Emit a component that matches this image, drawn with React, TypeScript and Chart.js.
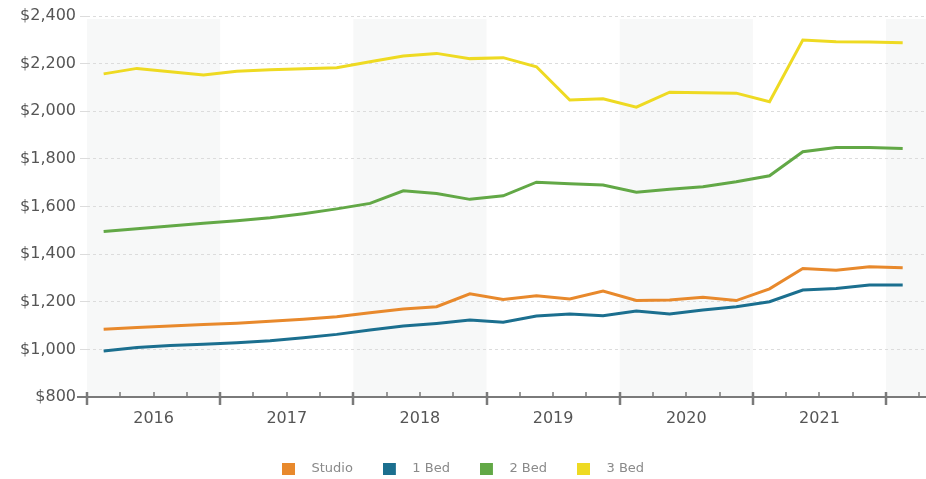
import React, { useEffect, useRef } from "react";
import { Chart, registerables } from "chart.js";

Chart.register(...registerables);

const quarters = [
  "2016-Q1", "2016-Q2", "2016-Q3", "2016-Q4",
  "2017-Q1", "2017-Q2", "2017-Q3", "2017-Q4",
  "2018-Q1", "2018-Q2", "2018-Q3", "2018-Q4",
  "2019-Q1", "2019-Q2", "2019-Q3", "2019-Q4",
  "2020-Q1", "2020-Q2", "2020-Q3", "2020-Q4",
  "2021-Q1", "2021-Q2", "2021-Q3", "2021-Q4",
  "2022-Q1",
];

const studio = [
  1085, 1092, 1098, 1104, 1110, 1118, 1127, 1137, 1154, 1170, 1179, 1233, 1210,
  1225, 1212, 1245, 1205, 1207, 1219, 1205, 1254, 1340, 1332, 1347, 1343,
];
const oneBed = [
  993, 1008, 1016, 1022, 1028, 1036, 1049, 1063, 1081, 1098, 1109, 1123, 1114,
  1140, 1149, 1141, 1161, 1149, 1165, 1179, 1200, 1249, 1256, 1270, 1270,
];
const twoBed = [
  1495, 1507, 1518, 1530, 1540, 1553, 1570, 1590, 1613, 1666, 1655, 1630, 1645,
  1702, 1696, 1690, 1660, 1672, 1683, 1704, 1729, 1830, 1848, 1848, 1844,
];
const threeBed = [
  2157, 2180, 2166, 2152, 2168, 2174, 2178, 2183, 2208, 2232, 2243, 2221, 2225,
  2187, 2047, 2052, 2017, 2080, 2078, 2076, 2040, 2299, 2292, 2291, 2288,
];

const seriesNames = ["Studio", "1 Bed", "2 Bed", "3 Bed"];
const seriesColors = ["#E8892C", "#1B6F8F", "#62A846", "#EEDA22"];
const yearLabels = [2016, 2017, 2018, 2019, 2020, 2021];
const shadedYears = [2016, 2018, 2020, 2022];

const xOf = (q: string) => {
  const [y, qq] = q.split("-Q");
  return Number(y) + (Number(qq) - 1) * 0.25 + 0.125;
};

const makeLegendSwatch = (color: string) => {
  const c = document.createElement("canvas");
  c.width = 23;
  c.height = 12;
  const g = c.getContext("2d")!;
  g.fillStyle = color;
  g.fillRect(0, 0, 13, 12);
  return c;
};

const decorPlugin = {
  id: "decor",
  beforeDraw(chart: any) {
    const { ctx, chartArea } = chart;
    const xs = chart.scales.x;
    ctx.save();
    ctx.fillStyle = "#F7F8F8";
    shadedYears.forEach((yr) => {
      const l = Math.max(xs.getPixelForValue(yr), chartArea.left);
      const r = Math.min(xs.getPixelForValue(yr + 1), chartArea.right);
      if (r > l) ctx.fillRect(l, chartArea.top + 3, r - l, chartArea.bottom - chartArea.top - 3);
    });
    ctx.restore();
  },
  afterDraw(chart: any) {
    const { ctx, chartArea } = chart;
    const xs = chart.scales.x;
    const y0 = chartArea.bottom;
    ctx.save();
    ctx.strokeStyle = "#7A7A7A";
    ctx.lineWidth = 2;
    ctx.beginPath();
    ctx.moveTo(chartArea.left - 10, y0);
    ctx.lineTo(chartArea.right, y0);
    ctx.stroke();
    const min = xs.min;
    const max = xs.max;
    for (let k = 0; min + k * 0.25 <= max + 1e-9; k++) {
      const v = min + k * 0.25;
      const px = Math.round(xs.getPixelForValue(v));
      const major = k % 4 === 0;
      ctx.lineWidth = major ? 2.5 : 1.5;
      ctx.beginPath();
      if (major) {
        ctx.moveTo(px, y0 - 5);
        ctx.lineTo(px, y0 + 8);
      } else {
        ctx.moveTo(px, y0 - 5);
        ctx.lineTo(px, y0);
      }
      ctx.stroke();
    }
    ctx.restore();
  },
};

export default function App() {
  const ref = useRef<HTMLCanvasElement | null>(null);

  useEffect(() => {
    if (!ref.current) return;
    document.body.style.margin = "0";
    const all = [studio, oneBed, twoBed, threeBed];
    const swatches = seriesColors.map(makeLegendSwatch);
    const chart = new Chart(ref.current, {
      type: "line",
      data: {
        datasets: all.map((vals, i) => ({
          label: seriesNames[i],
          data: vals.map((v, j) => ({ x: xOf(quarters[j]), y: v })),
          borderColor: seriesColors[i],
          backgroundColor: seriesColors[i],
          borderWidth: 3,
          pointRadius: 0,
          tension: 0,
          fill: false,
        })),
      },
      options: {
        animation: false,
        responsive: false,
        maintainAspectRatio: false,
        layout: { padding: { left: 0, right: 0, top: 16, bottom: 0 } },
        plugins: {
          tooltip: { enabled: false },
          legend: {
            position: "bottom",
            maxHeight: 47,
            labels: {
              usePointStyle: true,
              pointStyleWidth: 23,
              padding: 30,
              color: "#8A8A8A",
              font: { family: "DejaVu Sans", size: 13 },
              generateLabels: (c: any) => {
                const items = Chart.defaults.plugins.legend.labels.generateLabels(c);
                return items.map((it: any, i: number) => ({
                  ...it,
                  pointStyle: swatches[i],
                }));
              },
            },
          },
        },
        scales: {
          x: {
            type: "linear",
            min: 2016,
            max: 2022.3,
            grid: { display: false, drawTicks: false },
            border: { display: false },
            afterBuildTicks: (s: any) => {
              s.ticks = yearLabels.map((y) => ({ value: y + 0.5 }));
            },
            afterFit: (s: any) => {
              s.height = 35;
            },
            ticks: {
              autoSkip: false,
              maxRotation: 0,
              padding: 12,
              color: "#555",
              font: { family: "DejaVu Sans", size: 16 },
              callback: (v: any) => String(Math.floor(Number(v))),
            },
          },
          y: {
            min: 800,
            max: 2400,
            afterFit: (s: any) => {
              s.width = 87;
            },
            grid: {
              color: "#DCDCDC",
              lineWidth: 1,
              drawTicks: true,
              tickLength: 7,
            },
            border: { display: false, dash: [3, 3] },
            ticks: {
              stepSize: 200,
              padding: 4,
              color: "#555",
              font: { family: "DejaVu Sans", size: 16 },
              callback: (v: any) => "$" + Number(v).toLocaleString("en-US"),
            },
          },
        },
      },
      plugins: [decorPlugin],
    });
    return () => chart.destroy();
  }, []);

  return (
    <div style={{ position: "absolute", left: 0, top: 0, width: 926, height: 479 }}>
      <canvas ref={ref} width={926} height={479} />
    </div>
  );
}
